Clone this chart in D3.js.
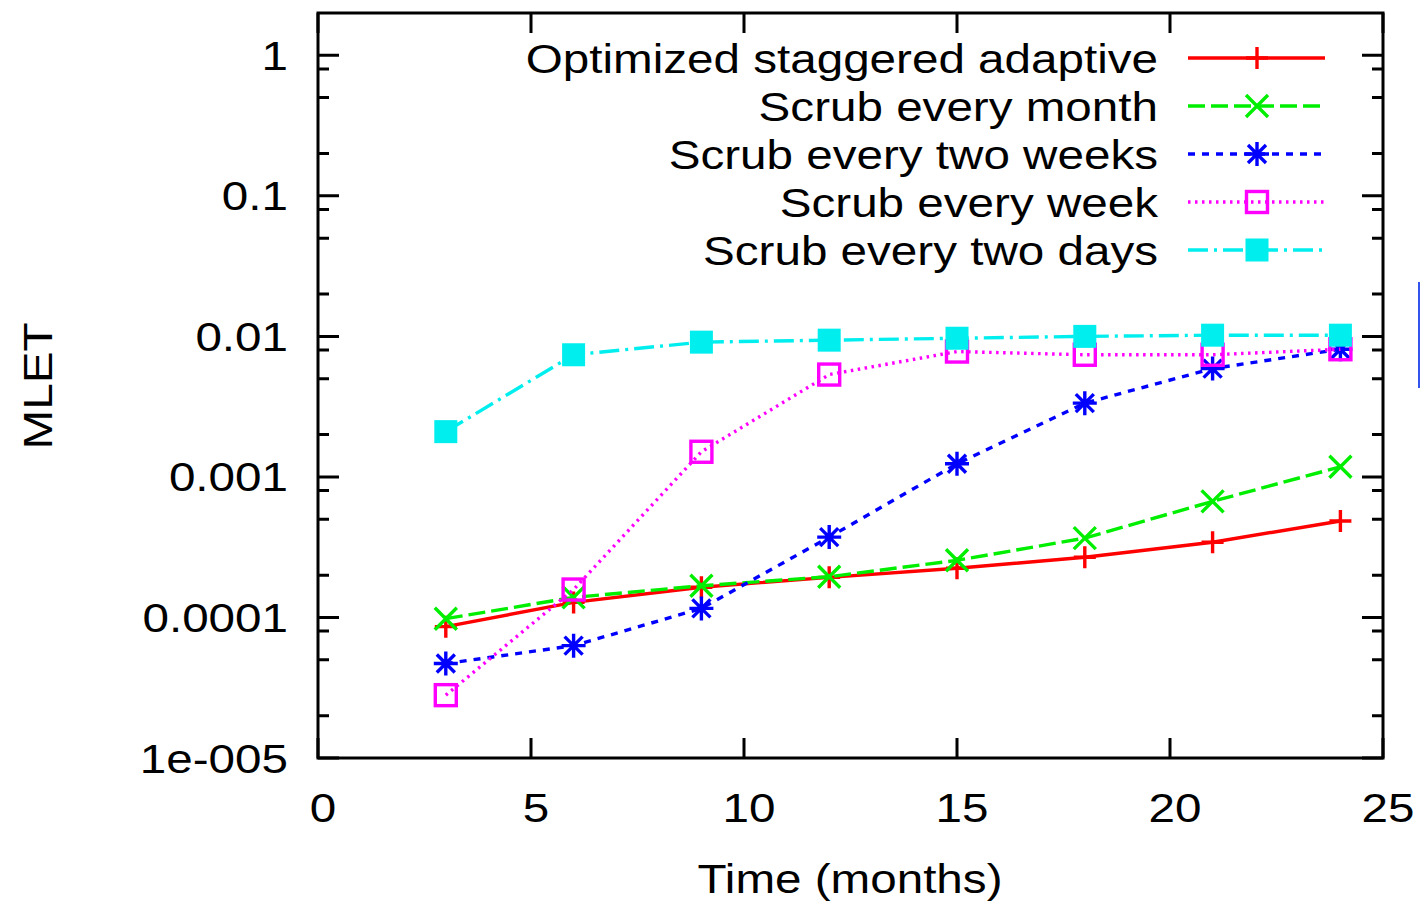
<!DOCTYPE html>
<html>
<head>
<meta charset="utf-8">
<script src="https://cdn.jsdelivr.net/npm/d3@7"></script>
<style>
  body { margin: 0; background: #fff; }
  text { font-family: "Liberation Sans", Arial, Helvetica, sans-serif; fill: #000; }
</style>
</head>
<body>
<div id="chart"></div>
<script>
"use strict";

const months = [3, 6, 9, 12, 15, 18, 21, 24];
const optimizedAdaptive = [8.6e-5, 1.28e-4, 1.64e-4, 1.93e-4, 2.24e-4, 2.68e-4, 3.43e-4, 4.86e-4];
const scrubMonth = [9.8e-5, 1.39e-4, 1.68e-4, 1.95e-4, 2.55e-4, 3.67e-4, 6.7e-4, 1.18e-3];
const scrubTwoWeeks = [4.7e-5, 6.3e-5, 1.16e-4, 3.73e-4, 1.24e-3, 3.35e-3, 5.9e-3, 8.1e-3];
const scrubWeek = [2.8e-5, 1.58e-4, 1.51e-3, 5.35e-3, 7.8e-3, 7.4e-3, 7.4e-3, 8.1e-3];
const scrubTwoDays = [2.1e-3, 7.4e-3, 9.1e-3, 9.4e-3, 9.7e-3, 1.0e-2, 1.02e-2, 1.02e-2];
const seriesNames = ["Optimized staggered adaptive", "Scrub every month",
                     "Scrub every two weeks", "Scrub every week", "Scrub every two days"];
const xTicks = [0, 5, 10, 15, 20, 25];
const yTicks = [1e-5, 1e-4, 1e-3, 1e-2, 1e-1, 1];
const yTickLabels = ["1e-005", "0.0001", "0.001", "0.01", "0.1", "1"];
const yMinorSteps = [2, 5, 8];

const margin = { top: 13, right: 37, bottom: 145, left: 318 };
const width = 1420 - margin.left - margin.right;
const height = 903 - margin.top - margin.bottom;
const stretch = 1.19;
const lw = 3.4;

const styles = [
    { color: "#ff0000", dash: null,            marker: "plus" },
    { color: "#00ee00", dash: "17,6",          marker: "cross" },
    { color: "#0000ff", dash: "7,7",           marker: "star" },
    { color: "#ff00ff", dash: "2.5,4.5",       marker: "box" },
    { color: "#00eeee", dash: "20,6,3,6",      marker: "fbox" }
];
const seriesData = [optimizedAdaptive, scrubMonth, scrubTwoWeeks, scrubWeek, scrubTwoDays];

const xScale = d3.scaleLinear().domain([0, 25]).range([0, width]);
const yScale = d3.scaleLog().domain([1e-5, 2]).range([height, 0]);

const svg = d3.select("#chart").append("svg")
              .attr("width", 1420)
              .attr("height", 903);
const plot = svg.append("g")
                .attr("transform", `translate(${margin.left}, ${margin.top})`);

// gnuplot text looks wider than Liberation Sans, so stretch it sideways
const label = (parent, x, y, str, anchor, extra) =>
    parent.append("text")
          .attr("transform", `translate(${x},${y}) ${extra || ""} scale(${stretch},1)`)
          .attr("text-anchor", anchor)
          .style("font-size", "40px")
          .text(str);

// ticks, mirrored on both sides
const minorVals = [];
yTicks.forEach(t => yMinorSteps.forEach(m => {
    const v = t * m;
    if (v < 2) minorVals.push(v);
}));
const tickPath = [];
yTicks.forEach(t => {
    const y = yScale(t);
    tickPath.push(`M0,${y}h21M${width},${y}h-21`);
});
minorVals.forEach(v => {
    const y = yScale(v);
    tickPath.push(`M0,${y}h11M${width},${y}h-11`);
});
xTicks.forEach(t => {
    const x = xScale(t);
    tickPath.push(`M${x},${height}v-20M${x},0v20`);
});
plot.append("path")
    .attr("d", tickPath.join(""))
    .attr("stroke", "#000")
    .attr("stroke-width", 3)
    .attr("fill", "none");

// tick labels
yTicks.forEach((t, i) => label(plot, -30, yScale(t) + 14.5, yTickLabels[i], "end"));
xTicks.forEach(t => label(plot, xScale(t) + 5, height + 64, t, "middle"));

// axis titles
label(svg, 52, 386, "MLET", "middle", "rotate(-90)");
label(svg, 850, 893, "Time (months)", "middle");

const markerPath = {
    plus : "M-11,0H11M0,-11V11",
    cross: "M-11,-11L11,11M-11,11L11,-11",
    star : "M-12,0H12M0,-12V12M-9,-9L9,9M-9,9L9,-9"
};
const drawMarker = (g, type, color, x, y) => {
    if (type === "box") {
        g.append("rect")
         .attr("x", x - 10.5).attr("y", y - 10.5)
         .attr("width", 21).attr("height", 21)
         .attr("fill", "none").attr("stroke", color).attr("stroke-width", lw);
    } else if (type === "fbox") {
        g.append("rect")
         .attr("x", x - 11.5).attr("y", y - 11.5)
         .attr("width", 23).attr("height", 23)
         .attr("fill", color);
    } else {
        g.append("path")
         .attr("d", markerPath[type])
         .attr("transform", `translate(${x},${y})`)
         .attr("stroke", color).attr("stroke-width", lw).attr("fill", "none");
    }
};

const line = d3.line()
               .x(d => xScale(d[0]))
               .y(d => yScale(d[1]));

seriesData.forEach((vals, i) => {
    const st = styles[i];
    const g = plot.append("g");
    const pts = months.map((m, j) => [m, vals[j]]);
    g.append("path")
     .attr("d", line(pts))
     .attr("fill", "none")
     .attr("stroke", st.color)
     .attr("stroke-width", lw)
     .attr("stroke-dasharray", st.dash);
    pts.forEach(p => drawMarker(g, st.marker, st.color, xScale(p[0]), yScale(p[1])));
});

// legend
const legend = svg.append("g");
seriesNames.forEach((name, i) => {
    const st = styles[i];
    const y = 58 + i * 48;
    label(legend, 1158, y + 14.5, name, "end");
    legend.append("path")
          .attr("d", `M1188,${y}H1325`)
          .attr("stroke", st.color)
          .attr("stroke-width", lw)
          .attr("stroke-dasharray", st.dash);
    drawMarker(legend, st.marker, st.color, 1257, y);
});

// frame
plot.append("rect")
    .attr("width", width)
    .attr("height", height)
    .attr("fill", "none")
    .attr("stroke", "#000")
    .attr("stroke-width", 3);

// stray edge of a neighbouring box in the source picture
svg.append("path")
   .attr("d", "M1419,282V388")
   .attr("stroke", "#3355ee")
   .attr("stroke-width", 2)
   .attr("fill", "none");
</script>
</body>
</html>
